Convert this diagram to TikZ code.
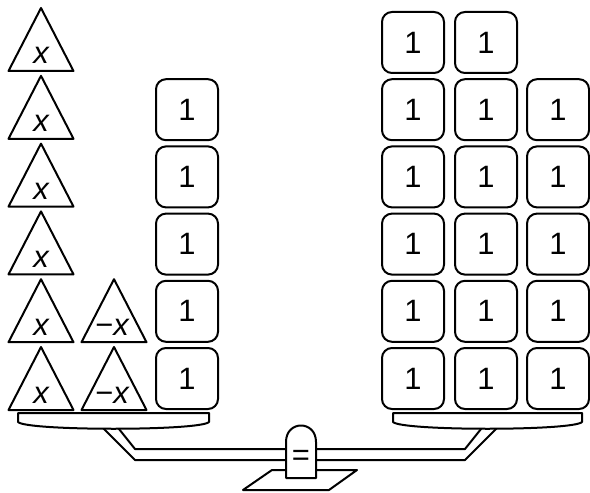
\documentclass[tikz,border=0pt]{standalone}
\usepackage{fontspec}
\setmainfont{Liberation Sans}
\begin{document}
\begin{tikzpicture}[x=1bp,y=-1bp,line join=round,
  ln/.style={draw=black,line width=2bp,fill=white},
  unit/.style={ln,rectangle,rounded corners=10bp,minimum width=62bp,minimum height=61bp,inner sep=0pt,font=\fontsize{31}{33}\selectfont},
  lbl/.style={inner sep=0pt,anchor=base,font=\fontsize{31}{33}\selectfont}]
\useasboundingbox (0,0) rectangle (590,493);
% base plate
\draw[ln] (243,490) -- (329,490) -- (357,470) -- (272,470) -- cycle;
% beam
\draw[ln] (99,424) -- (135,460) -- (465,460) -- (501,424) -- (485,424) -- (465,449) -- (135,449) -- (115,424) -- cycle;
% pedestal
\draw[ln] (286,478) -- (286,442) .. controls (286,420) and (316,420) .. (316,442) -- (316,478) -- cycle;
\node[lbl] (eq) at (301,465) {=};
% pans
\draw[ln] (18,413) -- (209,413) -- (209,422) .. controls (200,431) and (27,431) .. (18,422) -- cycle;
\draw[ln] (393,413) -- (582,413) -- (582,422) .. controls (573,431) and (402,431) .. (393,422) -- cycle;
% left triangles x
\foreach \k in {0,...,5}{
  \pgfmathsetmacro{\by}{410-67.8*\k}
  \draw[ln] (8.5,\by) -- (41,\by-63) -- (73.5,\by) -- cycle;
  \node[lbl] (x\k) at (41,\by-7) {\itshape x};
}
\foreach \k in {0,1}{
  \pgfmathsetmacro{\by}{410-67.8*\k}
  \draw[ln] (81.5,\by) -- (114,\by-63) -- (146.5,\by) -- cycle;
  \node[lbl] (mx\k) at (112,\by-7) {−\itshape x};
}
% left unit boxes
\foreach \k in {0,...,4}{
  \node[unit] (L\k) at (187,378.5-67.2*\k) {1};
}
% right unit boxes
\foreach \k in {0,...,5}{
  \node[unit] (Ra\k) at (413,378.5-67.2*\k) {1};
  \node[unit] (Rb\k) at (486,378.5-67.2*\k) {1};
}
\foreach \k in {0,...,4}{
  \node[unit] (Rc\k) at (558,378.5-67.2*\k) {1};
}
\end{tikzpicture}
\end{document}
